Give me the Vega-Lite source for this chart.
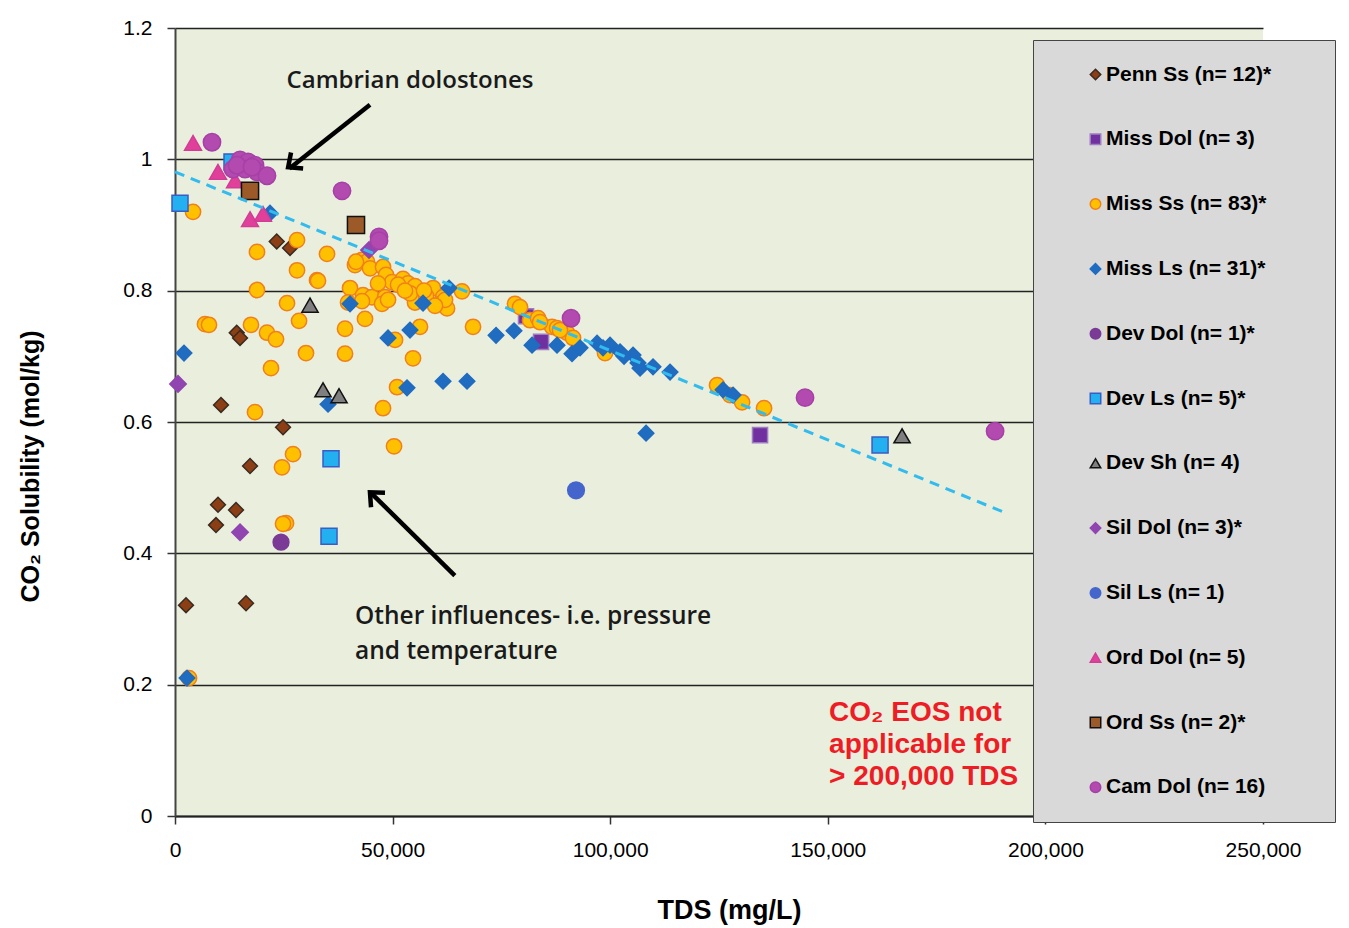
{
  "$schema": "https://vega.github.io/schema/vega-lite/v6.json",
  "width": 1088,
  "height": 788,
  "autosize": {"type": "none"},
  "padding": {"left": 175, "top": 28, "right": 86, "bottom": 112},
  "background": "white",
  "config": {
    "view": {"fill": "#e9eedd", "stroke": null},
    "font": "Liberation Sans",
    "legend": {
      "orient": "none",
      "legendX": 858,
      "legendY": 12,
      "direction": "vertical",
      "fillColor": "#d9d9d9",
      "strokeColor": "#444444",
      "padding": 24,
      "symbolOffset": 28,
      "labelOffset": 0,
      "rowPadding": 42.8,
      "labelFont": "Liberation Sans",
      "labelFontSize": 21,
      "labelFontWeight": "bold",
      "labelColor": "#000000",
      "labelLimit": 400,
      "symbolSize": 110,
      "symbolStrokeWidth": 1.5
    }
  },
  "datasets": {
    "pts": [
      {"series": "Penn Ss (n= 12)*", "tds": 23370, "sol": 0.875},
      {"series": "Penn Ss (n= 12)*", "tds": 26430, "sol": 0.865},
      {"series": "Penn Ss (n= 12)*", "tds": 14180, "sol": 0.736},
      {"series": "Penn Ss (n= 12)*", "tds": 14940, "sol": 0.728},
      {"series": "Penn Ss (n= 12)*", "tds": 10570, "sol": 0.626},
      {"series": "Penn Ss (n= 12)*", "tds": 24820, "sol": 0.592},
      {"series": "Penn Ss (n= 12)*", "tds": 17240, "sol": 0.533},
      {"series": "Penn Ss (n= 12)*", "tds": 9880, "sol": 0.474},
      {"series": "Penn Ss (n= 12)*", "tds": 14020, "sol": 0.466},
      {"series": "Penn Ss (n= 12)*", "tds": 9420, "sol": 0.443},
      {"series": "Penn Ss (n= 12)*", "tds": 2530, "sol": 0.321},
      {"series": "Penn Ss (n= 12)*", "tds": 16320, "sol": 0.324},
      {"series": "Miss Dol (n= 3)", "tds": 80660, "sol": 0.761},
      {"series": "Miss Dol (n= 3)", "tds": 84110, "sol": 0.722},
      {"series": "Miss Dol (n= 3)", "tds": 134430, "sol": 0.580},
      {"series": "Miss Ss (n= 83)*", "tds": 4140, "sol": 0.920},
      {"series": "Miss Ss (n= 83)*", "tds": 3220, "sol": 0.210},
      {"series": "Miss Ss (n= 83)*", "tds": 18840, "sol": 0.859},
      {"series": "Miss Ss (n= 83)*", "tds": 28040, "sol": 0.877},
      {"series": "Miss Ss (n= 83)*", "tds": 28040, "sol": 0.831},
      {"series": "Miss Ss (n= 83)*", "tds": 32630, "sol": 0.816},
      {"series": "Miss Ss (n= 83)*", "tds": 18840, "sol": 0.801},
      {"series": "Miss Ss (n= 83)*", "tds": 25740, "sol": 0.781},
      {"series": "Miss Ss (n= 83)*", "tds": 28500, "sol": 0.754},
      {"series": "Miss Ss (n= 83)*", "tds": 6890, "sol": 0.749},
      {"series": "Miss Ss (n= 83)*", "tds": 7810, "sol": 0.748},
      {"series": "Miss Ss (n= 83)*", "tds": 17460, "sol": 0.748},
      {"series": "Miss Ss (n= 83)*", "tds": 21140, "sol": 0.736},
      {"series": "Miss Ss (n= 83)*", "tds": 23210, "sol": 0.726},
      {"series": "Miss Ss (n= 83)*", "tds": 30100, "sol": 0.705},
      {"series": "Miss Ss (n= 83)*", "tds": 22060, "sol": 0.682},
      {"series": "Miss Ss (n= 83)*", "tds": 18380, "sol": 0.615},
      {"series": "Miss Ss (n= 83)*", "tds": 27120, "sol": 0.551},
      {"series": "Miss Ss (n= 83)*", "tds": 24590, "sol": 0.531},
      {"series": "Miss Ss (n= 83)*", "tds": 25510, "sol": 0.446},
      {"series": "Miss Ss (n= 83)*", "tds": 24820, "sol": 0.445},
      {"series": "Miss Ss (n= 83)*", "tds": 34930, "sol": 0.856},
      {"series": "Miss Ss (n= 83)*", "tds": 32860, "sol": 0.815},
      {"series": "Miss Ss (n= 83)*", "tds": 41360, "sol": 0.839},
      {"series": "Miss Ss (n= 83)*", "tds": 42970, "sol": 0.847},
      {"series": "Miss Ss (n= 83)*", "tds": 44120, "sol": 0.844},
      {"series": "Miss Ss (n= 83)*", "tds": 44810, "sol": 0.834},
      {"series": "Miss Ss (n= 83)*", "tds": 47800, "sol": 0.836},
      {"series": "Miss Ss (n= 83)*", "tds": 48490, "sol": 0.824},
      {"series": "Miss Ss (n= 83)*", "tds": 49870, "sol": 0.813},
      {"series": "Miss Ss (n= 83)*", "tds": 52390, "sol": 0.818},
      {"series": "Miss Ss (n= 83)*", "tds": 53540, "sol": 0.811},
      {"series": "Miss Ss (n= 83)*", "tds": 55150, "sol": 0.807},
      {"series": "Miss Ss (n= 83)*", "tds": 51250, "sol": 0.809},
      {"series": "Miss Ss (n= 83)*", "tds": 59290, "sol": 0.804},
      {"series": "Miss Ss (n= 83)*", "tds": 61590, "sol": 0.790},
      {"series": "Miss Ss (n= 83)*", "tds": 65950, "sol": 0.799},
      {"series": "Miss Ss (n= 83)*", "tds": 40220, "sol": 0.804},
      {"series": "Miss Ss (n= 83)*", "tds": 43200, "sol": 0.793},
      {"series": "Miss Ss (n= 83)*", "tds": 45270, "sol": 0.790},
      {"series": "Miss Ss (n= 83)*", "tds": 48260, "sol": 0.790},
      {"series": "Miss Ss (n= 83)*", "tds": 47570, "sol": 0.780},
      {"series": "Miss Ss (n= 83)*", "tds": 42970, "sol": 0.784},
      {"series": "Miss Ss (n= 83)*", "tds": 39760, "sol": 0.782},
      {"series": "Miss Ss (n= 83)*", "tds": 55150, "sol": 0.782},
      {"series": "Miss Ss (n= 83)*", "tds": 60900, "sol": 0.780},
      {"series": "Miss Ss (n= 83)*", "tds": 62510, "sol": 0.773},
      {"series": "Miss Ss (n= 83)*", "tds": 54000, "sol": 0.796},
      {"series": "Miss Ss (n= 83)*", "tds": 43660, "sol": 0.757},
      {"series": "Miss Ss (n= 83)*", "tds": 39070, "sol": 0.742},
      {"series": "Miss Ss (n= 83)*", "tds": 56300, "sol": 0.745},
      {"series": "Miss Ss (n= 83)*", "tds": 68480, "sol": 0.745},
      {"series": "Miss Ss (n= 83)*", "tds": 50560, "sol": 0.725},
      {"series": "Miss Ss (n= 83)*", "tds": 39070, "sol": 0.704},
      {"series": "Miss Ss (n= 83)*", "tds": 54690, "sol": 0.697},
      {"series": "Miss Ss (n= 83)*", "tds": 51020, "sol": 0.653},
      {"series": "Miss Ss (n= 83)*", "tds": 47800, "sol": 0.621},
      {"series": "Miss Ss (n= 83)*", "tds": 50330, "sol": 0.563},
      {"series": "Miss Ss (n= 83)*", "tds": 78130, "sol": 0.780},
      {"series": "Miss Ss (n= 83)*", "tds": 79280, "sol": 0.775},
      {"series": "Miss Ss (n= 83)*", "tds": 81580, "sol": 0.755},
      {"series": "Miss Ss (n= 83)*", "tds": 83420, "sol": 0.758},
      {"series": "Miss Ss (n= 83)*", "tds": 86630, "sol": 0.745},
      {"series": "Miss Ss (n= 83)*", "tds": 87780, "sol": 0.743},
      {"series": "Miss Ss (n= 83)*", "tds": 90080, "sol": 0.736},
      {"series": "Miss Ss (n= 83)*", "tds": 91460, "sol": 0.728},
      {"series": "Miss Ss (n= 83)*", "tds": 98810, "sol": 0.705},
      {"series": "Miss Ss (n= 83)*", "tds": 124550, "sol": 0.656},
      {"series": "Miss Ss (n= 83)*", "tds": 127540, "sol": 0.641},
      {"series": "Miss Ss (n= 83)*", "tds": 130300, "sol": 0.630},
      {"series": "Miss Ss (n= 83)*", "tds": 135350, "sol": 0.621},
      {"series": "Miss Ss (n= 83)*", "tds": 41590, "sol": 0.844},
      {"series": "Miss Ss (n= 83)*", "tds": 46650, "sol": 0.811},
      {"series": "Miss Ss (n= 83)*", "tds": 52850, "sol": 0.800},
      {"series": "Miss Ss (n= 83)*", "tds": 57680, "sol": 0.792},
      {"series": "Miss Ss (n= 83)*", "tds": 62050, "sol": 0.786},
      {"series": "Miss Ss (n= 83)*", "tds": 83880, "sol": 0.752},
      {"series": "Miss Ss (n= 83)*", "tds": 88470, "sol": 0.740},
      {"series": "Miss Ss (n= 83)*", "tds": 48950, "sol": 0.786},
      {"series": "Miss Ss (n= 83)*", "tds": 59750, "sol": 0.777},
      {"series": "Miss Ss (n= 83)*", "tds": 57220, "sol": 0.800},
      {"series": "Miss Ls (n= 31)*", "tds": 2760, "sol": 0.210},
      {"series": "Miss Ls (n= 31)*", "tds": 2070, "sol": 0.705},
      {"series": "Miss Ls (n= 31)*", "tds": 21830, "sol": 0.918},
      {"series": "Miss Ls (n= 31)*", "tds": 40220, "sol": 0.780},
      {"series": "Miss Ls (n= 31)*", "tds": 35160, "sol": 0.627},
      {"series": "Miss Ls (n= 31)*", "tds": 53310, "sol": 0.652},
      {"series": "Miss Ls (n= 31)*", "tds": 61590, "sol": 0.662},
      {"series": "Miss Ls (n= 31)*", "tds": 67100, "sol": 0.662},
      {"series": "Miss Ls (n= 31)*", "tds": 48950, "sol": 0.728},
      {"series": "Miss Ls (n= 31)*", "tds": 54000, "sol": 0.740},
      {"series": "Miss Ls (n= 31)*", "tds": 56990, "sol": 0.781},
      {"series": "Miss Ls (n= 31)*", "tds": 62970, "sol": 0.804},
      {"series": "Miss Ls (n= 31)*", "tds": 73770, "sol": 0.732},
      {"series": "Miss Ls (n= 31)*", "tds": 77900, "sol": 0.739},
      {"series": "Miss Ls (n= 31)*", "tds": 82040, "sol": 0.717},
      {"series": "Miss Ls (n= 31)*", "tds": 87780, "sol": 0.717},
      {"series": "Miss Ls (n= 31)*", "tds": 91230, "sol": 0.704},
      {"series": "Miss Ls (n= 31)*", "tds": 93070, "sol": 0.713},
      {"series": "Miss Ls (n= 31)*", "tds": 96980, "sol": 0.720},
      {"series": "Miss Ls (n= 31)*", "tds": 99960, "sol": 0.717},
      {"series": "Miss Ls (n= 31)*", "tds": 102260, "sol": 0.707},
      {"series": "Miss Ls (n= 31)*", "tds": 105250, "sol": 0.702},
      {"series": "Miss Ls (n= 31)*", "tds": 106400, "sol": 0.690},
      {"series": "Miss Ls (n= 31)*", "tds": 106860, "sol": 0.682},
      {"series": "Miss Ls (n= 31)*", "tds": 109840, "sol": 0.684},
      {"series": "Miss Ls (n= 31)*", "tds": 113750, "sol": 0.676},
      {"series": "Miss Ls (n= 31)*", "tds": 125930, "sol": 0.649},
      {"series": "Miss Ls (n= 31)*", "tds": 128230, "sol": 0.641},
      {"series": "Miss Ls (n= 31)*", "tds": 108240, "sol": 0.583},
      {"series": "Miss Ls (n= 31)*", "tds": 103180, "sol": 0.700},
      {"series": "Miss Ls (n= 31)*", "tds": 98350, "sol": 0.713},
      {"series": "Dev Dol (n= 1)*", "tds": 24360, "sol": 0.417},
      {"series": "Dev Ls (n= 5)*", "tds": 1150, "sol": 0.933},
      {"series": "Dev Ls (n= 5)*", "tds": 35850, "sol": 0.544},
      {"series": "Dev Ls (n= 5)*", "tds": 35390, "sol": 0.426},
      {"series": "Dev Ls (n= 5)*", "tds": 162010, "sol": 0.565},
      {"series": "Dev Ls (n= 5)*", "tds": 13100, "sol": 0.996},
      {"series": "Dev Sh (n= 4)", "tds": 31020, "sol": 0.778},
      {"series": "Dev Sh (n= 4)", "tds": 34010, "sol": 0.649},
      {"series": "Dev Sh (n= 4)", "tds": 37690, "sol": 0.640},
      {"series": "Dev Sh (n= 4)", "tds": 167060, "sol": 0.579},
      {"series": "Sil Dol (n= 3)*", "tds": 690, "sol": 0.658},
      {"series": "Sil Dol (n= 3)*", "tds": 14940, "sol": 0.432},
      {"series": "Sil Dol (n= 3)*", "tds": 44580, "sol": 0.862},
      {"series": "Sil Ls (n= 1)", "tds": 92150, "sol": 0.496},
      {"series": "Ord Dol (n= 5)", "tds": 4140, "sol": 1.025},
      {"series": "Ord Dol (n= 5)", "tds": 9880, "sol": 0.981},
      {"series": "Ord Dol (n= 5)", "tds": 13790, "sol": 0.968},
      {"series": "Ord Dol (n= 5)", "tds": 17240, "sol": 0.909},
      {"series": "Ord Dol (n= 5)", "tds": 20220, "sol": 0.917},
      {"series": "Ord Ss (n= 2)*", "tds": 17240, "sol": 0.952},
      {"series": "Ord Ss (n= 2)*", "tds": 41590, "sol": 0.900},
      {"series": "Cam Dol (n= 16)", "tds": 8500, "sol": 1.026},
      {"series": "Cam Dol (n= 16)", "tds": 14940, "sol": 0.999},
      {"series": "Cam Dol (n= 16)", "tds": 16780, "sol": 0.996},
      {"series": "Cam Dol (n= 16)", "tds": 18380, "sol": 0.991},
      {"series": "Cam Dol (n= 16)", "tds": 13330, "sol": 0.985},
      {"series": "Cam Dol (n= 16)", "tds": 16090, "sol": 0.985},
      {"series": "Cam Dol (n= 16)", "tds": 18840, "sol": 0.981},
      {"series": "Cam Dol (n= 16)", "tds": 21140, "sol": 0.975},
      {"series": "Cam Dol (n= 16)", "tds": 14250, "sol": 0.991},
      {"series": "Cam Dol (n= 16)", "tds": 17690, "sol": 0.988},
      {"series": "Cam Dol (n= 16)", "tds": 38380, "sol": 0.952},
      {"series": "Cam Dol (n= 16)", "tds": 46880, "sol": 0.882},
      {"series": "Cam Dol (n= 16)", "tds": 46880, "sol": 0.876},
      {"series": "Cam Dol (n= 16)", "tds": 91000, "sol": 0.758},
      {"series": "Cam Dol (n= 16)", "tds": 144770, "sol": 0.637},
      {"series": "Cam Dol (n= 16)", "tds": 188440, "sol": 0.586}
    ],
    "trend": [
      {"tds": 0, "sol": 0.981},
      {"tds": 190300, "sol": 0.463}
    ],
    "arrows": [
      {"tds": 44800, "sol": 1.083, "tds2": 26300, "sol2": 0.986},
      {"tds": 64300, "sol": 0.366, "tds2": 45200, "sol2": 0.491}
    ],
    "arrowA": [{"tds": 26000, "sol": 0.988}],
    "arrowB": [{"tds": 44800, "sol": 0.493}],
    "noteTop": [{"tds": 54000, "sol": 1.119, "label": "Cambrian dolostones"}],
    "noteBottom": [
      {"tds": 41360, "sol": 0.303, "label": "Other influences- i.e. pressure"},
      {"tds": 41360, "sol": 0.250, "label": "and temperature"}
    ],
    "red": [
      {"tds": 150300, "sol": 0.157, "label": "CO₂ EOS not"},
      {"tds": 150300, "sol": 0.108, "label": "applicable for"},
      {"tds": 150300, "sol": 0.059, "label": "> 200,000 TDS"}
    ]
  },
  "layer": [
    {
      "data": {"name": "pts"},
      "mark": {"type": "point", "filled": true, "opacity": 1, "strokeWidth": 1.5},
      "encoding": {
        "x": {
          "field": "tds", "type": "quantitative",
          "scale": {"domain": [0, 250000], "nice": false, "zero": true},
          "axis": {
            "title": "TDS (mg/L)",
            "values": [0, 50000, 100000, 150000, 200000, 250000],
            "labelExpr": "format(datum.value, ',')",
            "grid": false,
            "labelFont": "Liberation Sans",
            "labelFontSize": 21,
            "labelColor": "#000000",
            "labelPadding": 15,
            "labelFlush": false,
            "tickSize": 8,
            "tickColor": "#333333",
            "tickWidth": 1.5,
            "domainColor": "#222222",
            "domainWidth": 2,
            "titleFont": "Liberation Sans",
            "titleFontSize": 27,
            "titleFontWeight": "bold",
            "titleColor": "#000000",
            "titleX": 554,
            "titleY": 94,
            "titleBaseline": "middle"
          }
        },
        "y": {
          "field": "sol", "type": "quantitative",
          "scale": {"domain": [0, 1.2], "nice": false},
          "axis": {
            "title": "CO₂ Solubility (mol/kg)",
            "values": [0, 0.2, 0.4, 0.6, 0.8, 1, 1.2],
            "labelExpr": "format(datum.value, '~g')",
            "grid": true,
            "gridColor": "#222222",
            "gridWidth": 1.5,
            "labelFont": "Liberation Sans",
            "labelFontSize": 21,
            "labelColor": "#000000",
            "labelPadding": 15,
            "labelFlush": false,
            "tickSize": 8,
            "tickColor": "#333333",
            "tickWidth": 1.5,
            "domainColor": "#444444",
            "domainWidth": 2,
            "titleFont": "Liberation Sans",
            "titleFontSize": 25,
            "titleFontWeight": "bold",
            "titleColor": "#000000",
            "titleAngle": -90,
            "titleX": -145,
            "titleY": 438,
            "titleBaseline": "middle",
            "titleAlign": "center"
          }
        },
        "fill": {
          "field": "series", "type": "nominal",
          "scale": {
            "domain": ["Penn Ss (n= 12)*", "Miss Dol (n= 3)", "Miss Ss (n= 83)*", "Miss Ls (n= 31)*", "Dev Dol (n= 1)*", "Dev Ls (n= 5)*", "Dev Sh (n= 4)", "Sil Dol (n= 3)*", "Sil Ls (n= 1)", "Ord Dol (n= 5)", "Ord Ss (n= 2)*", "Cam Dol (n= 16)"],
            "range": ["#8c3f14", "#7030a0", "#ffc000", "#1f6cc0", "#7a3a96", "#22b0f0", "#7f7f7f", "#9045b0", "#4466cc", "#e0409a", "#9c5a28", "#b24ab0"]
          },
          "legend": {"title": " ", "titleOrient": "right", "titlePadding": 40}
        },
        "stroke": {
          "field": "series", "type": "nominal",
          "scale": {
            "domain": ["Penn Ss (n= 12)*", "Miss Dol (n= 3)", "Miss Ss (n= 83)*", "Miss Ls (n= 31)*", "Dev Dol (n= 1)*", "Dev Ls (n= 5)*", "Dev Sh (n= 4)", "Sil Dol (n= 3)*", "Sil Ls (n= 1)", "Ord Dol (n= 5)", "Ord Ss (n= 2)*", "Cam Dol (n= 16)"],
            "range": ["#3a2a20", "#9e7cc1", "#f0801a", "#1f6cc0", "#7a3a96", "#3a5cc4", "#111111", "#9045b0", "#4466cc", "#d23c96", "#111111", "#a640a6"]
          },
          "legend": {"title": " ", "titleOrient": "right", "titlePadding": 40}
        },
        "shape": {
          "field": "series", "type": "nominal",
          "scale": {
            "domain": ["Penn Ss (n= 12)*", "Miss Dol (n= 3)", "Miss Ss (n= 83)*", "Miss Ls (n= 31)*", "Dev Dol (n= 1)*", "Dev Ls (n= 5)*", "Dev Sh (n= 4)", "Sil Dol (n= 3)*", "Sil Ls (n= 1)", "Ord Dol (n= 5)", "Ord Ss (n= 2)*", "Cam Dol (n= 16)"],
            "range": ["diamond", "square", "circle", "diamond", "circle", "square", "triangle-up", "diamond", "circle", "triangle-up", "square", "circle"]
          },
          "legend": {"title": " ", "titleOrient": "right", "titlePadding": 40}
        },
        "size": {
          "field": "series", "type": "nominal",
          "scale": {
            "domain": ["Cam Dol (n= 16)", "Ord Ss (n= 2)*", "Ord Dol (n= 5)", "Sil Ls (n= 1)", "Sil Dol (n= 3)*", "Dev Sh (n= 4)", "Dev Ls (n= 5)*", "Dev Dol (n= 1)*", "Miss Ls (n= 31)*", "Miss Ss (n= 83)*", "Miss Dol (n= 3)", "Penn Ss (n= 12)*"],
            "range": [300, 220, 220, 210, 121, 240, 200, 270, 210, 270, 220, 250]
          },
          "legend": null
        }
      }
    },
    {
      "data": {"name": "trend"},
      "mark": {"type": "line", "color": "#33bbee", "strokeWidth": 3, "strokeDash": [10, 7]},
      "encoding": {
        "x": {"field": "tds", "type": "quantitative"},
        "y": {"field": "sol", "type": "quantitative"}
      }
    },
    {
      "data": {"name": "arrows"},
      "mark": {"type": "rule", "color": "#000000", "strokeWidth": 4.5},
      "encoding": {
        "x": {"field": "tds", "type": "quantitative"},
        "y": {"field": "sol", "type": "quantitative"},
        "x2": {"field": "tds2"},
        "y2": {"field": "sol2"}
      }
    },
    {
      "data": {"name": "arrowA"},
      "mark": {"type": "point", "shape": "M-0.9,1L0,0L0.9,1", "filled": false, "color": "#000000", "strokeWidth": 4.5, "size": 500, "angle": 233, "opacity": 1, "strokeJoin": "miter"},
      "encoding": {
        "x": {"field": "tds", "type": "quantitative"},
        "y": {"field": "sol", "type": "quantitative"}
      }
    },
    {
      "data": {"name": "arrowB"},
      "mark": {"type": "point", "shape": "M-0.9,1L0,0L0.9,1", "filled": false, "color": "#000000", "strokeWidth": 4.5, "size": 500, "angle": 314, "opacity": 1, "strokeJoin": "miter"},
      "encoding": {
        "x": {"field": "tds", "type": "quantitative"},
        "y": {"field": "sol", "type": "quantitative"}
      }
    },
    {
      "data": {"name": "noteTop"},
      "mark": {"type": "text", "font": "Open Sans", "fontSize": 24, "fontWeight": 600, "color": "#1a1a1a", "align": "center", "baseline": "middle"},
      "encoding": {
        "x": {"field": "tds", "type": "quantitative"},
        "y": {"field": "sol", "type": "quantitative"},
        "text": {"field": "label"}
      }
    },
    {
      "data": {"name": "noteBottom"},
      "mark": {"type": "text", "font": "Open Sans", "fontSize": 24.5, "fontWeight": 600, "color": "#1a1a1a", "align": "left", "baseline": "middle"},
      "encoding": {
        "x": {"field": "tds", "type": "quantitative"},
        "y": {"field": "sol", "type": "quantitative"},
        "text": {"field": "label"}
      }
    },
    {
      "data": {"name": "red"},
      "mark": {"type": "text", "font": "Liberation Sans", "fontSize": 28, "fontWeight": "bold", "color": "#ee1c24", "align": "left", "baseline": "middle"},
      "encoding": {
        "x": {"field": "tds", "type": "quantitative"},
        "y": {"field": "sol", "type": "quantitative"},
        "text": {"field": "label"}
      }
    }
  ]
}
